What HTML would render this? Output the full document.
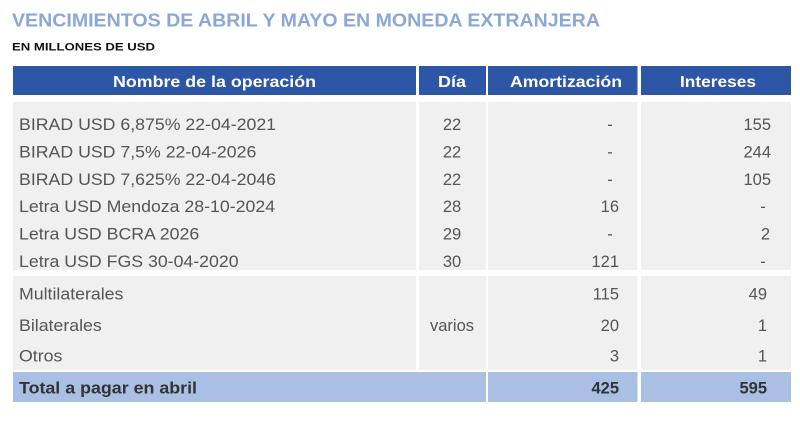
<!DOCTYPE html>
<html><head><meta charset="utf-8"><style>
html,body{margin:0;padding:0;background:#fff;width:800px;height:444px;overflow:hidden}
svg{display:block}
text{font-family:"Liberation Sans",sans-serif}
</style></head><body>
<svg width="800" height="444" viewBox="0 0 800 444" xmlns="http://www.w3.org/2000/svg">
<rect width="800" height="444" fill="#fff"/>
<text x="12" y="26.7" font-size="18.5" font-weight="bold" fill="#8ba7d9" textLength="588" lengthAdjust="spacingAndGlyphs">VENCIMIENTOS DE ABRIL Y MAYO EN MONEDA EXTRANJERA</text>
<text x="12" y="50.7" font-size="11" font-weight="bold" fill="#111" textLength="143" lengthAdjust="spacingAndGlyphs">EN MILLONES DE USD</text>

<!-- header -->
<g fill="#2e56a6">
<rect x="13" y="66" width="403" height="29"/>
<rect x="419" y="66" width="67" height="29"/>
<rect x="488" y="66" width="149.5" height="29"/>
<rect x="641" y="66" width="150" height="29"/>
</g>
<g fill="#fff" font-weight="bold" font-size="15.5">
<text x="113" y="87" textLength="203" lengthAdjust="spacingAndGlyphs">Nombre de la operación</text>
<text x="438" y="87" textLength="28" lengthAdjust="spacingAndGlyphs">Día</text>
<text x="510" y="87" textLength="112" lengthAdjust="spacingAndGlyphs">Amortización</text>
<text x="680" y="87" textLength="76" lengthAdjust="spacingAndGlyphs">Intereses</text>
</g>

<!-- group 1 -->
<g fill="#f0f0f0">
<rect x="13" y="102" width="403" height="168"/>
<rect x="419" y="102" width="67" height="168"/>
<rect x="488" y="102" width="149.5" height="168"/>
<rect x="641" y="102" width="150" height="168"/>
<rect x="13" y="276" width="403" height="94"/>
<rect x="419" y="276" width="67" height="94"/>
<rect x="488" y="276" width="149.5" height="94"/>
<rect x="641" y="276" width="150" height="94"/>
</g>
<g fill="#a9bfe4">
<rect x="13" y="372" width="473" height="30"/>
<rect x="488" y="372" width="149.5" height="30"/>
<rect x="641" y="372" width="150" height="30"/>
</g>

<g fill="#555" font-size="16.5">
<g transform="translate(19,0) scale(1.075,1)">
<text x="0" y="130">BIRAD USD 6,875% 22-04-2021</text>
<text x="0" y="157.4">BIRAD USD 7,5% 22-04-2026</text>
<text x="0" y="184.8">BIRAD USD 7,625% 22-04-2046</text>
<text x="0" y="212.2">Letra USD Mendoza 28-10-2024</text>
<text x="0" y="239.6">Letra USD BCRA 2026</text>
<text x="0" y="267">Letra USD FGS 30-04-2020</text>
<text x="0" y="299.3">Multilaterales</text>
<text x="0" y="331">Bilaterales</text>
<text x="0" y="361.7">Otros</text>
</g>
<g text-anchor="middle">
<text x="452" y="130">22</text>
<text x="452" y="157.4">22</text>
<text x="452" y="184.8">22</text>
<text x="452" y="212.2">28</text>
<text x="452" y="239.6">29</text>
<text x="452" y="267">30</text>
<text x="452" y="331">varios</text>
<text x="610" y="130">-</text>
<text x="610" y="157.4">-</text>
<text x="610" y="184.8">-</text>
<text x="610" y="239.6">-</text>
<text x="763" y="212.2">-</text>
<text x="763" y="267">-</text>
</g>
<g text-anchor="end">
<text x="619" y="212.2">16</text>
<text x="619" y="267">121</text>
<text x="619" y="299.3">115</text>
<text x="619" y="331">20</text>
<text x="619" y="361.7">3</text>
<text x="771" y="130">155</text>
<text x="771" y="157.4">244</text>
<text x="771" y="184.8">105</text>
<text x="770" y="239.6">2</text>
<text x="767" y="299.3">49</text>
<text x="767" y="331">1</text>
<text x="767" y="361.7">1</text>
</g>
</g>

<g fill="#333" font-size="16.5" font-weight="bold">
<text x="19" y="393.3" textLength="178" lengthAdjust="spacingAndGlyphs">Total a pagar en abril</text>
<text x="619" y="393.3" text-anchor="end">425</text>
<text x="767" y="393.3" text-anchor="end">595</text>
</g>
</svg>
</body></html>
